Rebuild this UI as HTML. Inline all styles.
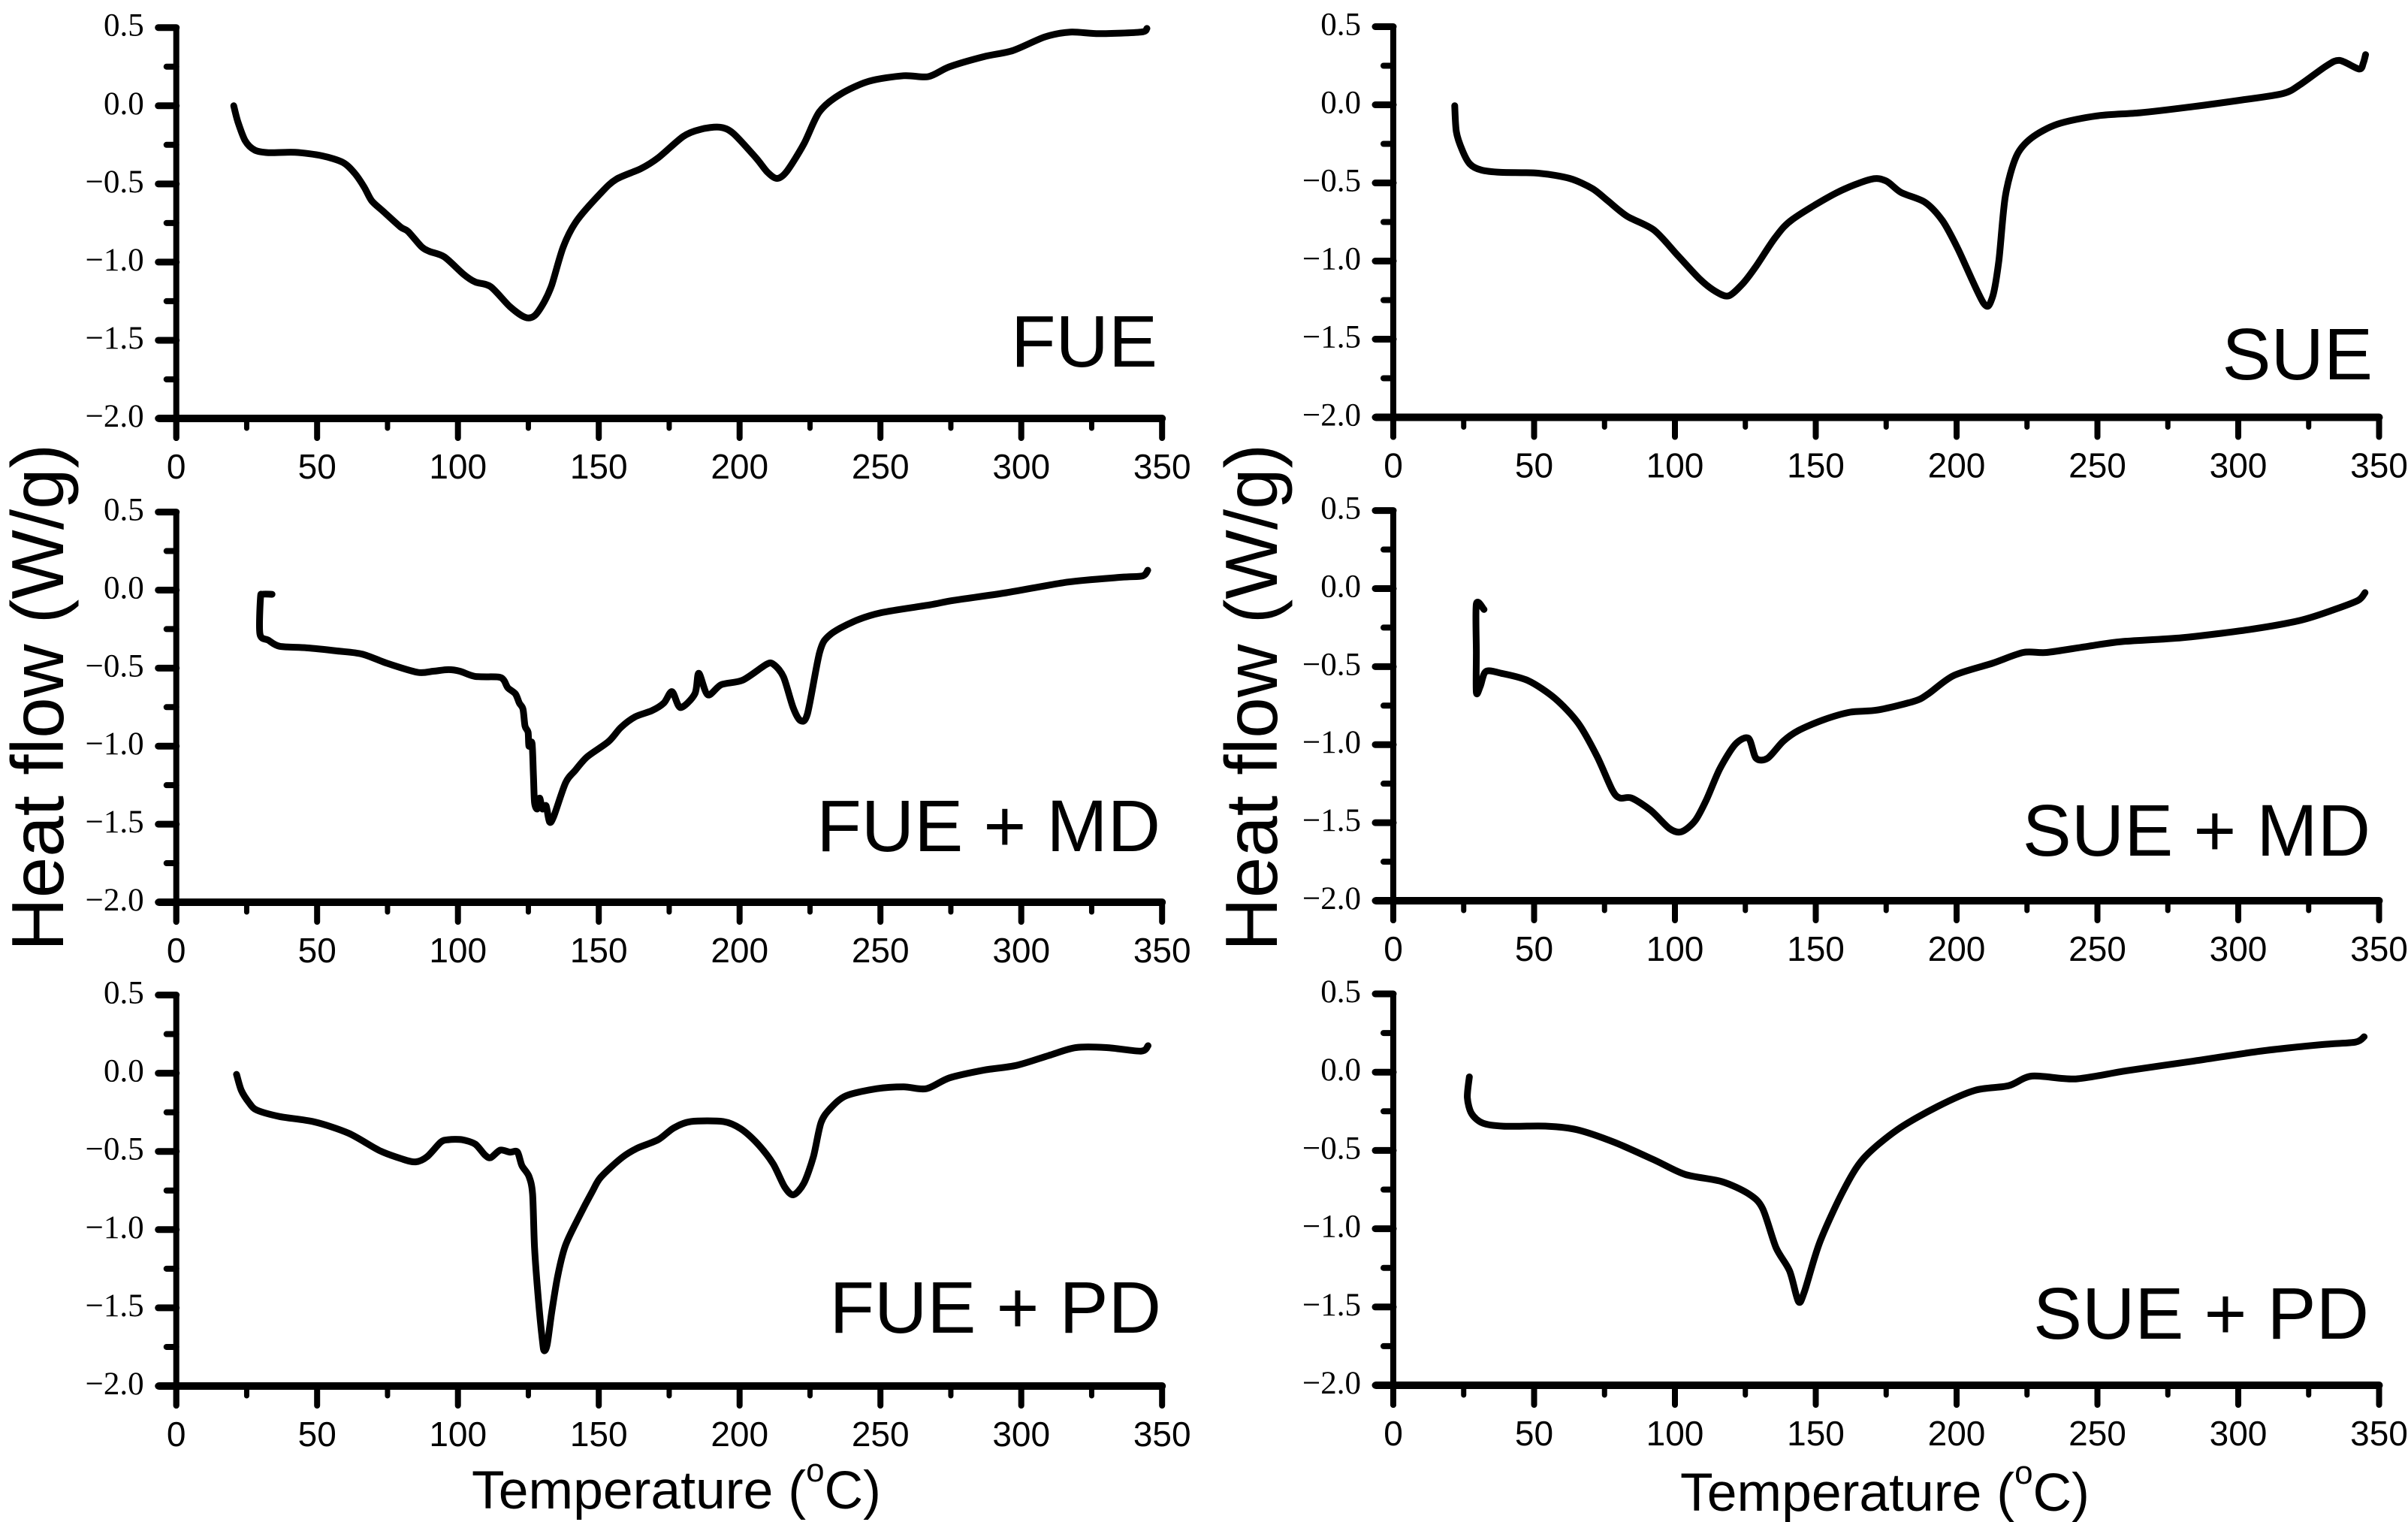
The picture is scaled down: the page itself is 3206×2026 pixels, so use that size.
<!DOCTYPE html>
<html lang="en">
<head>
<meta charset="utf-8">
<title>Heat flow versus temperature: six DSC panels</title>
<style>
html,body{margin:0;padding:0;background:#fff;width:3206px;height:2026px;overflow:hidden}
svg{display:block}
.ylab{font-family:"Liberation Serif",serif;font-size:43px;fill:#000;text-anchor:end}
.xlab{font-family:"Liberation Sans",sans-serif;font-size:46px;fill:#000;text-anchor:middle}
.plab{font-family:"Liberation Sans",sans-serif;font-size:97.5px;fill:#000;text-anchor:end}
.ttl{font-family:"Liberation Sans",sans-serif;fill:#000}
</style>
</head>
<body>
<svg id="chart" xmlns="http://www.w3.org/2000/svg" width="3206" height="2026" viewBox="0 0 3206 2026">
<rect width="3206" height="2026" fill="#fff"/>
<text class="ttl" font-size="98" transform="translate(84 1266) rotate(-90)">Heat flow (W/g)</text>
<text class="ttl" font-size="98" transform="translate(1700 1266) rotate(-90)">Heat flow (W/g)</text>
<text class="ttl" font-size="71.5" x="628" y="2008">Temperature (<tspan font-size="44" dy="-36">o</tspan><tspan dy="36">C)</tspan></text>
<text class="ttl" font-size="71.5" x="2237" y="2011">Temperature (<tspan font-size="44" dy="-36">o</tspan><tspan dy="36">C)</tspan></text>
</svg>
<script>
const xTicks = [0, 50, 100, 150, 200, 250, 300, 350];
const xMinorTicks = [25, 75, 125, 175, 225, 275, 325];
const yTicks = [0.5, 0, -0.5, -1, -1.5, -2];
const yTickLabels = ["0.5", "0.0", "\u22120.5", "\u22121.0", "\u22121.5", "\u22122.0"];
const yMinorTicks = [0.25, -0.25, -0.75, -1.25, -1.75];

const fueTemp = [20.4,21.8,24.5,27.9,32.7,42.2,51.7,59.2,63.3,66.7,69.4,73.5,79.6,82.3,87.1,89.8,95.2,102,106.1,111.6,118.4,123.8,127.2,130.6,133.3,137.4,142.2,150.7,156.2,165,171.1,180,186.1,192.9,197.7,205.8,209.9,213.3,216.7,222.8,228.3,235.7,246,258.2,267,274.5,286.8,297,308.5,317.4,327.6,342.5,344.6];
const fueFlow = [0,-0.098,-0.225,-0.284,-0.3,-0.298,-0.32,-0.363,-0.431,-0.52,-0.608,-0.676,-0.775,-0.804,-0.902,-0.931,-0.967,-1.078,-1.127,-1.157,-1.284,-1.353,-1.343,-1.255,-1.147,-0.902,-0.735,-0.559,-0.47,-0.402,-0.333,-0.196,-0.151,-0.137,-0.176,-0.333,-0.425,-0.465,-0.421,-0.245,-0.04,0.073,0.157,0.192,0.186,0.249,0.314,0.353,0.441,0.471,0.461,0.471,0.494];

const sueTemp = [21.8,22.4,24.5,27.2,31.3,38.1,51.7,62.6,70.7,76.2,83,92.5,100.7,108.8,114.3,119,124.1,128.7,135.6,141.8,157.2,169.5,174.9,180.3,188.8,195,200.4,209.6,212.7,215,217.3,221.2,226.6,235.8,249.7,265.1,282,300.5,315.9,322.1,331.3,336,342.9,344.4,345.2];
const sueFlow = [-0.006,-0.173,-0.291,-0.379,-0.418,-0.432,-0.438,-0.471,-0.536,-0.615,-0.713,-0.801,-0.958,-1.115,-1.193,-1.223,-1.144,-1.036,-0.85,-0.732,-0.565,-0.477,-0.487,-0.561,-0.624,-0.742,-0.919,-1.27,-1.233,-0.997,-0.585,-0.33,-0.212,-0.124,-0.071,-0.051,-0.016,0.029,0.072,0.131,0.249,0.284,0.229,0.268,0.321];

const fueMdTemp = [34,30.6,29.9,29.7,32.7,36.7,46.3,57.1,66,74.8,85.7,91.2,96.6,100.7,106.1,114.3,116.3,117.7,120.4,121.8,123.1,123.8,124.9,125.2,126.3,126.8,127.2,128.2,129,130,131.3,132.5,134,138.2,141.6,145.9,153.5,157.8,162.9,168.8,173.1,176,179,184.1,185.5,188.7,193.5,201.1,209.6,212.2,215.6,219,221.6,224.1,228.4,231.8,240.3,250.5,267.5,276,294.7,316.8,335.5,343.1,344.9];
const fueMdFlow = [-0.027,-0.027,-0.05,-0.282,-0.321,-0.36,-0.37,-0.39,-0.41,-0.469,-0.527,-0.52,-0.51,-0.52,-0.553,-0.557,-0.577,-0.626,-0.665,-0.724,-0.763,-0.871,-0.911,-1.0,-0.98,-1.186,-1.362,-1.402,-1.333,-1.402,-1.382,-1.485,-1.451,-1.235,-1.156,-1.068,-0.97,-0.881,-0.812,-0.773,-0.724,-0.651,-0.753,-0.665,-0.533,-0.671,-0.606,-0.577,-0.475,-0.478,-0.557,-0.753,-0.836,-0.792,-0.4,-0.291,-0.203,-0.144,-0.095,-0.066,-0.017,0.052,0.082,0.091,0.127];

const sueMdTemp = [32.2,29.5,29.5,29.5,30.9,32.9,38.4,47.9,57.4,65.6,72.4,77.8,80.5,84.6,91.4,98.1,102.3,107.1,111.2,115.9,121.4,126.1,128.8,132.9,138.4,143.8,152.7,162.2,172,185.2,190,199,212.8,223.7,232,246.5,258.5,280.1,304.1,322.1,334.2,342.6,345];
const sueMdFlow = [-0.134,-0.099,-0.409,-0.665,-0.625,-0.531,-0.543,-0.59,-0.704,-0.861,-1.077,-1.293,-1.342,-1.342,-1.421,-1.538,-1.558,-1.489,-1.352,-1.156,-0.998,-0.959,-1.087,-1.087,-0.979,-0.91,-0.841,-0.792,-0.778,-0.72,-0.674,-0.557,-0.478,-0.409,-0.409,-0.37,-0.34,-0.315,-0.262,-0.203,-0.134,-0.075,-0.026];

const fuePdTemp = [21.4,23.1,25.9,28.6,36.7,49,61.2,72.1,80.3,85,89.1,93.9,96.6,101.4,106.1,109.5,111.6,115,118.4,121.1,122.7,125.2,126.5,127.2,128.6,130,130.6,131.7,133.3,135.4,138.1,142.9,147.6,150.7,158.2,163.6,171.1,176.6,182.7,194.2,200.4,206.5,211.9,216,219.1,222.8,226.2,228.9,232.3,237.8,248.7,258.2,266.3,274.5,286.8,298.3,309.9,319.4,330.3,342.5,345];
const fuePdFlow = [-0.007,-0.11,-0.19,-0.236,-0.277,-0.311,-0.384,-0.494,-0.549,-0.567,-0.533,-0.441,-0.425,-0.425,-0.453,-0.521,-0.54,-0.492,-0.505,-0.503,-0.59,-0.659,-0.773,-1.116,-1.458,-1.71,-1.774,-1.733,-1.527,-1.298,-1.104,-0.921,-0.76,-0.665,-0.54,-0.48,-0.425,-0.35,-0.309,-0.309,-0.355,-0.453,-0.579,-0.727,-0.777,-0.704,-0.533,-0.316,-0.224,-0.144,-0.099,-0.087,-0.099,-0.03,0.02,0.05,0.114,0.164,0.164,0.141,0.176];

const suePdTemp = [27,26.3,27.8,31.8,39,54.5,65.3,78.5,92.8,103.6,116.7,126.3,131.1,135.9,140.7,143.8,145.9,151.4,159.8,167,178.9,193.3,206.5,218.4,226.8,242.3,260.3,284.2,308.1,329.7,341.6,344.7];
const suePdFlow = [-0.03,-0.162,-0.265,-0.326,-0.345,-0.345,-0.368,-0.448,-0.562,-0.653,-0.699,-0.779,-0.87,-1.121,-1.269,-1.464,-1.406,-1.087,-0.756,-0.55,-0.368,-0.219,-0.116,-0.087,-0.025,-0.043,0.009,0.071,0.135,0.176,0.192,0.226];

const panelNames = ["FUE", "SUE", "FUE + MD", "SUE + MD", "FUE + PD", "SUE + PD"];
const panelTemps = [fueTemp, sueTemp, fueMdTemp, sueMdTemp, fuePdTemp, suePdTemp];
const panelFlows = [fueFlow, sueFlow, fueMdFlow, sueMdFlow, fuePdFlow, suePdFlow];

/* layout only: frame of each panel and where its name sits */
const layouts = [
  {left: 234.7, top: 36.7, bottom: 557, nameX: 1541, nameY: 488},
  {left: 1855, top: 35.5, bottom: 555.5, nameX: 3159, nameY: 505},
  {left: 234.7, top: 681.6, bottom: 1201, nameX: 1545, nameY: 1133},
  {left: 1855, top: 679.6, bottom: 1199, nameX: 3156, nameY: 1139},
  {left: 234.7, top: 1324.5, bottom: 1845, nameX: 1546, nameY: 1774},
  {left: 1855, top: 1323, bottom: 1844, nameX: 3154, nameY: 1782}
];

const NS = "http://www.w3.org/2000/svg";
const root = document.getElementById("chart");

function mk(parent, tag, attrs, text) {
  const node = document.createElementNS(NS, tag);
  for (const k in attrs) node.setAttribute(k, attrs[k]);
  if (text !== undefined) node.textContent = text;
  parent.appendChild(node);
  return node;
}

function smoothPath(pts) {
  let d = "M" + pts[0][0].toFixed(1) + " " + pts[0][1].toFixed(1);
  const k = 1 / 7;
  for (let i = 0; i < pts.length - 1; i++) {
    const p0 = pts[Math.max(i - 1, 0)], p1 = pts[i], p2 = pts[i + 1], p3 = pts[Math.min(i + 2, pts.length - 1)];
    const c1x = p1[0] + (p2[0] - p0[0]) * k, c1y = p1[1] + (p2[1] - p0[1]) * k;
    const c2x = p2[0] - (p3[0] - p1[0]) * k, c2y = p2[1] - (p3[1] - p1[1]) * k;
    d += "C" + c1x.toFixed(1) + " " + c1y.toFixed(1) + " " + c2x.toFixed(1) + " " + c2y.toFixed(1) + " " + p2[0].toFixed(1) + " " + p2[1].toFixed(1);
  }
  return d;
}

panelNames.forEach(function (name, idx) {
  const box = layouts[idx];
  const xScale = function (v) { return box.left + v * 3.75; };
  const yScale = function (v) { return box.top + (0.5 - v) * (box.bottom - box.top) / 2.5; };
  const slug = name.toLowerCase().replace(/ \+ /g, "-");

  const g = mk(root, "g", {});
  
  

  const yAxis = mk(g, "line", {x1: box.left, x2: box.left, y1: yScale(0.5), y2: box.bottom + 26, stroke: "#000", "stroke-width": 8, "stroke-linecap": "round"});
  
  

  const xAxis = mk(g, "line", {x1: box.left - 23, x2: xScale(350), y1: box.bottom, y2: box.bottom, stroke: "#000", "stroke-width": 10, "stroke-linecap": "round"});
  
  

  xTicks.forEach(function (v) {
    const tick = mk(g, "line", {x1: xScale(v), x2: xScale(v), y1: box.bottom, y2: box.bottom + 26, stroke: "#000", "stroke-width": 8, "stroke-linecap": "round"});
    
    
    const lab = mk(g, "text", {class: "xlab", x: xScale(v), y: box.bottom + 80}, String(v));
    
    
  });

  xMinorTicks.forEach(function (v) {
    const tick = mk(g, "line", {x1: xScale(v), x2: xScale(v), y1: box.bottom, y2: box.bottom + 13, stroke: "#000", "stroke-width": 7, "stroke-linecap": "round"});
    
    
  });

  yTicks.forEach(function (v, i) {
    const tick = mk(g, "line", {x1: box.left - 24, x2: box.left, y1: yScale(v), y2: yScale(v), stroke: "#000", "stroke-width": 9, "stroke-linecap": "round"});
    
    
    const lab = mk(g, "text", {class: "ylab", x: box.left - 43, y: yScale(v) + 11}, yTickLabels[i]);
    
    
  });

  yMinorTicks.forEach(function (v) {
    const tick = mk(g, "line", {x1: box.left - 13, x2: box.left, y1: yScale(v), y2: yScale(v), stroke: "#000", "stroke-width": 8, "stroke-linecap": "round"});
    
    
  });

  const temps = panelTemps[idx], flows = panelFlows[idx];
  const pts = temps.map(function (t, i) { return [xScale(t), yScale(flows[i])]; });
  const curve = mk(g, "path", {d: smoothPath(pts), fill: "none", stroke: "#000", "stroke-width": 9, "stroke-linejoin": "round", "stroke-linecap": "round"});
  
  

  const label = mk(g, "text", {class: "plab", x: box.nameX, y: box.nameY}, name);
  
  
});
</script>
</body>
</html>
